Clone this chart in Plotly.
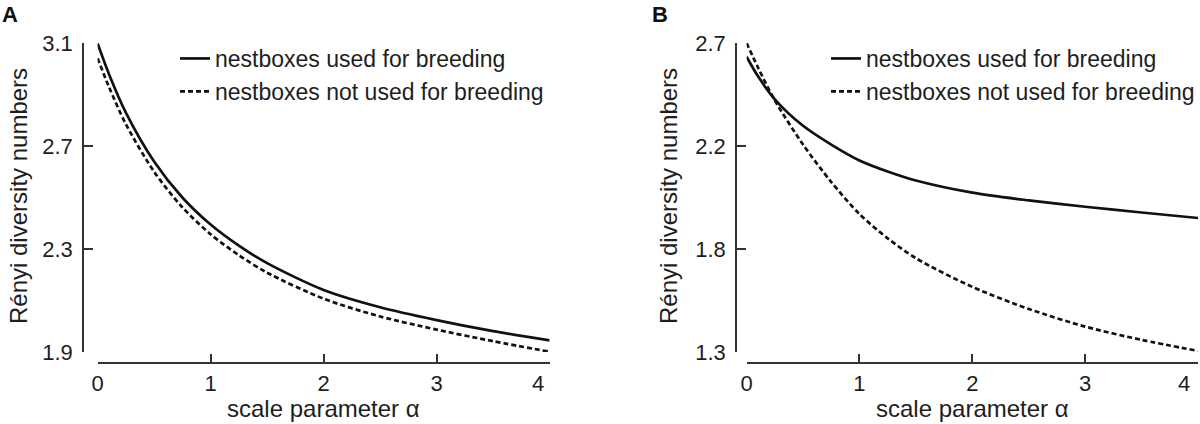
import plotly.graph_objects as go

# ---- data ----
alpha = [0, 0.1, 0.25, 0.5, 0.75, 1, 1.25, 1.5, 2, 2.5, 3, 3.5, 4]

used_A = [3.098, 2.98, 2.83, 2.64, 2.50, 2.395, 2.313, 2.245, 2.141, 2.074, 2.024, 1.981, 1.945]
not_used_A = [3.041, 2.93, 2.785, 2.60, 2.462, 2.357, 2.276, 2.208, 2.107, 2.038, 1.987, 1.942, 1.901]

used_B = [2.638, 2.55, 2.445, 2.325, 2.24, 2.168, 2.118, 2.077, 2.022, 1.987, 1.958, 1.932, 1.907]
not_used_B = [2.70, 2.59, 2.44, 2.24, 2.07, 1.925, 1.815, 1.725, 1.595, 1.495, 1.415, 1.355, 1.305]

x_ticks = [0, 1, 2, 3, 4]
x_ticktext = ["0", "1", "2", "3", ""]   # the "4" is set slightly left of its tick (as in the reference)
x_last_label = "4"
yA_tickvals = [1.9, 2.3, 2.7, 3.1]
yA_ticktext = ["1.9", "2.3", "2.7", "3.1"]
yB_tickvals = [1.3, 1.3 + 1.4 / 3, 1.3 + 2.8 / 3, 2.7]
yB_ticktext = ["1.3", "1.8", "2.2", "2.7"]

name_used = "nestboxes used for breeding"
name_not = "nestboxes not used for breeding"

W, H = 1200, 424
FONT = "Liberation Sans, Arial, Helvetica, sans-serif"
INK = "#1e1e1e"
AX = "#333333"


def fx(p):
    return p / W


def fy(p):
    return 1 - p / H


fig = go.Figure()
solid = dict(color="#111111", width=2.7, shape="spline", smoothing=0.8)
dashed = dict(color="#111111", width=2.7, dash="5px,3px", shape="spline", smoothing=0.8)

fig.add_trace(go.Scatter(x=alpha, y=used_A, mode="lines", line=solid, name=name_used,
                         xaxis="x", yaxis="y", legend="legend"))
fig.add_trace(go.Scatter(x=alpha, y=not_used_A, mode="lines", line=dashed, name=name_not,
                         xaxis="x", yaxis="y", legend="legend"))
fig.add_trace(go.Scatter(x=alpha, y=used_B, mode="lines", line=solid, name=name_used,
                         xaxis="x2", yaxis="y2", legend="legend2"))
fig.add_trace(go.Scatter(x=alpha, y=not_used_B, mode="lines", line=dashed, name=name_not,
                         xaxis="x2", yaxis="y2", legend="legend2"))

tickfont = dict(family=FONT, size=22, color=INK)


def xax(x0, x1):
    return dict(domain=[fx(x0), fx(x1)], range=[0, 4], anchor="free", position=fy(363),
                tickvals=x_ticks, ticktext=x_ticktext, ticks="inside", ticklen=8, tickwidth=1.6,
                tickcolor=AX, showline=True, linecolor=AX, linewidth=1.6, showgrid=False,
                zeroline=False, tickfont=tickfont, ticklabelstandoff=1, automargin=False,
                fixedrange=True)


def yax(xpos, rng, tv, tt):
    return dict(domain=[fy(352), fy(43)], range=rng, anchor="free", position=fx(xpos),
                tickvals=tv, ticktext=tt, ticks="inside", ticklen=9, tickwidth=1.6, tickcolor=AX,
                showline=True, linecolor=AX, linewidth=1.6, showgrid=False, zeroline=False,
                tickfont=tickfont, ticklabelstandoff=5, automargin=False, fixedrange=True)


legfont = dict(family=FONT, size=23, color=INK)

fig.update_layout(
    width=W, height=H,
    margin=dict(l=0, r=0, t=0, b=0),
    paper_bgcolor="white", plot_bgcolor="white",
    showlegend=True,
    xaxis=xax(97.6, 549.6),
    yaxis=yax(83, [1.9, 3.1], yA_tickvals, yA_ticktext),
    xaxis2=xax(746.6, 1198),
    yaxis2=yax(736, [1.3, 2.7], yB_tickvals, yB_ticktext),
    legend=dict(x=fx(175), y=fy(37), xanchor="left", yanchor="top", font=legfont,
                bgcolor="rgba(0,0,0,0)", borderwidth=0, tracegroupgap=0),
    legend2=dict(x=fx(826), y=fy(37), xanchor="left", yanchor="top", font=legfont,
                 bgcolor="rgba(0,0,0,0)", borderwidth=0, tracegroupgap=0),
)

ann_font = dict(family=FONT, size=24, color=INK)
xtitle_font = dict(family=FONT, size=24, color=INK)
annotations = [
    dict(text="<b>A</b>", x=0, y=fy(0), xref="paper", yref="paper", xanchor="left", yanchor="top",
         showarrow=False, font=dict(family=FONT, size=22, color="#111")),
    dict(text="<b>B</b>", x=fx(650), y=fy(0), xref="paper", yref="paper", xanchor="left", yanchor="top",
         showarrow=False, font=dict(family=FONT, size=22, color="#111")),
    dict(text="Rényi diversity numbers", x=fx(18), y=fy(196), xref="paper", yref="paper",
         xanchor="center", yanchor="middle", textangle=-90, showarrow=False, font=ann_font),
    dict(text="Rényi diversity numbers", x=fx(668), y=fy(196), xref="paper", yref="paper",
         xanchor="center", yanchor="middle", textangle=-90, showarrow=False, font=ann_font),
    dict(text="scale parameter α", x=fx(323.6), y=0, xref="paper", yref="paper",
         xanchor="center", yanchor="bottom", showarrow=False, font=xtitle_font),
    dict(text="scale parameter α", x=fx(972.3), y=0, xref="paper", yref="paper",
         xanchor="center", yanchor="bottom", showarrow=False, font=xtitle_font),
    # last x tick labels, nudged left of the tick as in the reference
    dict(text=x_last_label, x=x_ticks[-1], xref="x", y=fy(383), yref="paper", xshift=-12,
         xanchor="center", yanchor="middle", showarrow=False, font=tickfont),
    dict(text=x_last_label, x=x_ticks[-1], xref="x2", y=fy(383), yref="paper", xshift=-14,
         xanchor="center", yanchor="middle", showarrow=False, font=tickfont),
]
fig.update_layout(annotations=annotations)

fig.write_html(
    "out.html",
    config={"displayModeBar": False},
    post_script="document.body.style.margin='0';document.body.style.overflow='hidden';",
)
